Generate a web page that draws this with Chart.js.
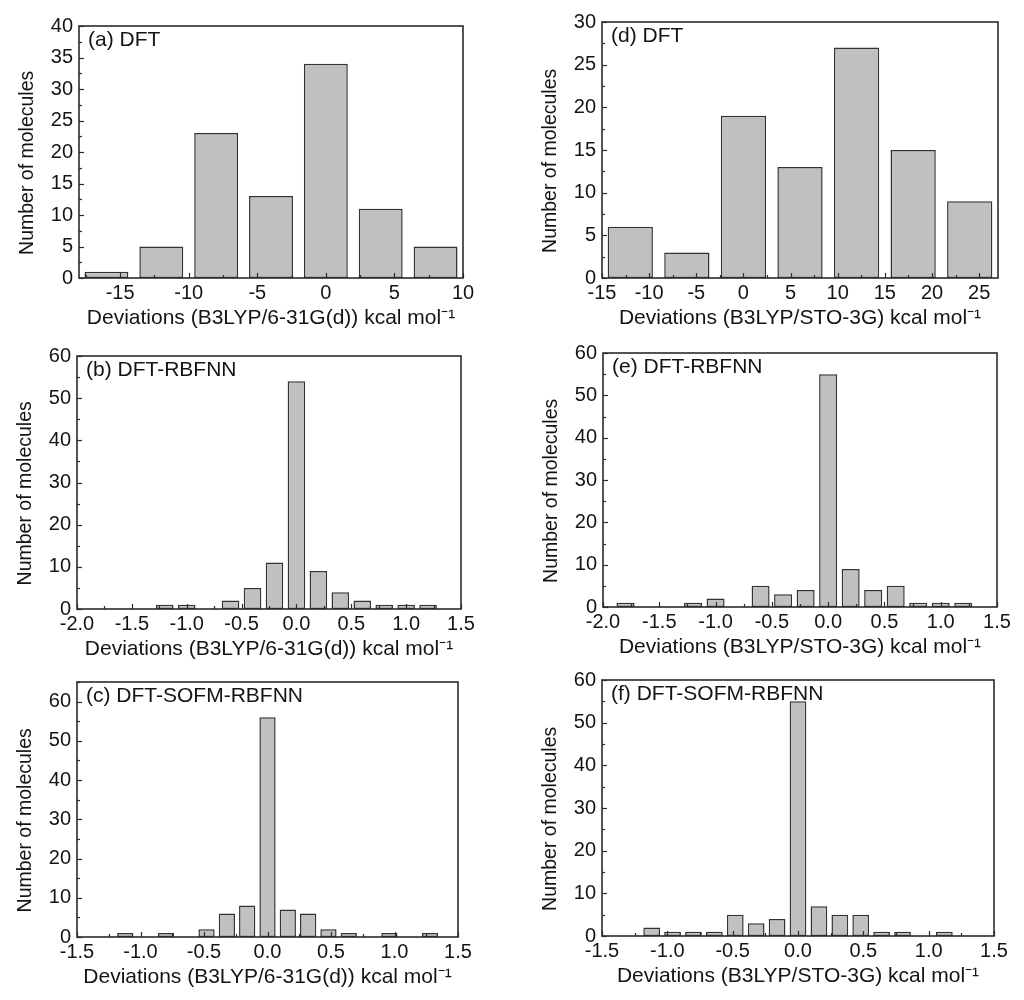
<!DOCTYPE html>
<html>
<head>
<meta charset="utf-8">
<script src="https://cdn.jsdelivr.net/npm/chart.js@4.4.1/dist/chart.umd.min.js"></script>
<style>
  body { margin: 0; background: #fff; }
  #wrap { position: relative; width: 1024px; height: 1000px; background: #fff; }
  #wrap canvas { position: absolute; }
</style>
</head>
<body>
<div id="wrap"></div>
<script>
// bin centres and counts
const binsA = [-16, -12, -8, -4, 0, 4, 8];
const countsA = [1, 5, 23, 13, 34, 11, 5];

const binsB = [-1.2, -1.0, -0.6, -0.4, -0.2, 0, 0.2, 0.4, 0.6, 0.8, 1.0, 1.2];
const countsB = [1, 1, 2, 5, 11, 54, 9, 4, 2, 1, 1, 1];

const binsC = [-1.12, -0.80, -0.48, -0.32, -0.16, 0, 0.16, 0.32, 0.48, 0.64, 0.96, 1.28];
const countsC = [1, 1, 2, 6, 8, 56, 7, 6, 2, 1, 1, 1];

const binsD = [-12, -6, 0, 6, 12, 18, 24];
const countsD = [6, 3, 19, 13, 27, 15, 9];

const binsE = [-1.8, -1.2, -1.0, -0.6, -0.4, -0.2, 0, 0.2, 0.4, 0.6, 0.8, 1.0, 1.2];
const countsE = [1, 1, 2, 5, 3, 4, 55, 9, 4, 5, 1, 1, 1];

const binsF = [-1.12, -0.96, -0.80, -0.64, -0.48, -0.32, -0.16, 0, 0.16, 0.32, 0.48, 0.64, 0.80, 1.12];
const countsF = [2, 1, 1, 1, 5, 3, 4, 55, 7, 5, 5, 1, 1, 1];

const labels = ['(a) DFT', '(b) DFT-RBFNN', '(c) DFT-SOFM-RBFNN', '(d) DFT', '(e) DFT-RBFNN', '(f) DFT-SOFM-RBFNN'];
const xTitleA = 'Deviations (B3LYP/6-31G(d)) kcal mol\u207B\u00B9';
const xTitleB = 'Deviations (B3LYP/STO-3G) kcal mol\u207B\u00B9';
// trailing spaces nudge the rotated title a little below the axis centre, as in the original
const yTitle = 'Number of molecules    ';

const FONT = '"Liberation Sans", Arial, sans-serif';
const INK = '#141414';

// plot box of every panel (left, right, top, bottom) and its axes
const panels = [
  { bins: binsA, counts: countsA, label: labels[0], xt: xTitleA, box: [79, 463, 26, 278],  x: [-18, 10, 5],   y: [40, 5],  dec: 0, barPct: 0.8 },
  { bins: binsB, counts: countsB, label: labels[1], xt: xTitleA, box: [77, 461, 356, 609], x: [-2, 1.5, 0.5], y: [60, 10], dec: 1, barPct: 0.8 },
  { bins: binsC, counts: countsC, label: labels[2], xt: xTitleA, box: [77, 458, 682, 937], x: [-1.5, 1.5, 0.5], y: [65, 10], dec: 1, barPct: 0.8 },
  // tick step (5) is smaller than bin step (6) here, so the ruler is the tick step
  { bins: binsD, counts: countsD, label: labels[3], xt: xTitleB, box: [602, 998, 22, 278], x: [-15, 27, 5],  y: [30, 5],  dec: 0, barPct: 0.96 },
  { bins: binsE, counts: countsE, label: labels[4], xt: xTitleB, box: [603, 997, 353, 607], x: [-2, 1.5, 0.5], y: [60, 10], dec: 1, barPct: 0.8 },
  { bins: binsF, counts: countsF, label: labels[5], xt: xTitleB, box: [602, 994, 680, 936], x: [-1.5, 1.5, 0.5], y: [60, 10], dec: 1, barPct: 0.8 }
];

const AXW = 79, AXH = 55, PADT = 20, PADR = 24;

// frame box, inward major/minor ticks and the panel label
const framePlugin = {
  id: 'frame',
  afterDatasetsDraw(chart, args, opts) {
    const { ctx, chartArea: a, scales } = chart;
    ctx.save();
    ctx.strokeStyle = '#2b2b2b';
    ctx.lineWidth = 1.6;
    ctx.strokeRect(a.left, a.top, a.right - a.left, a.bottom - a.top);

    ctx.lineWidth = 1.2;
    const marks = (scale) => {
      const vals = scale.ticks.map(t => t.value);
      const step = vals[1] - vals[0];
      const out = [];
      vals.forEach(v => out.push([v, 5]));
      for (let v = vals[0] - step / 2; v <= scale.max + 1e-9; v += step) {
        if (v >= scale.min - 1e-9) out.push([v, 3]);
      }
      return out;
    };
    marks(scales.x).forEach(([v, len]) => {
      const px = Math.round(scales.x.getPixelForValue(v)) + 0.5;
      ctx.beginPath(); ctx.moveTo(px, a.bottom); ctx.lineTo(px, a.bottom - len); ctx.stroke();
    });
    marks(scales.y).forEach(([v, len]) => {
      const py = Math.round(scales.y.getPixelForValue(v)) + 0.5;
      ctx.beginPath(); ctx.moveTo(a.left, py); ctx.lineTo(a.left + len, py); ctx.stroke();
    });

    ctx.fillStyle = INK;
    ctx.font = '21px ' + FONT;
    ctx.textBaseline = 'middle';
    ctx.textAlign = 'left';
    ctx.fillText(opts.text, a.left + 9, a.top + 14);
    ctx.restore();
  }
};

const wrap = document.getElementById('wrap');

panels.forEach(p => {
  const [L, R, T, B] = p.box;
  const cv = document.createElement('canvas');
  cv.width = (R - L) + AXW + PADR;
  cv.height = (B - T) + PADT + AXH;
  cv.style.left = (L - AXW) + 'px';
  cv.style.top = (T - PADT) + 'px';
  wrap.appendChild(cv);

  new Chart(cv.getContext('2d'), {
    type: 'bar',
    data: {
      datasets: [{
        data: p.bins.map((b, i) => ({ x: b, y: p.counts[i] })),
        backgroundColor: '#c0c0c0',
        borderColor: '#333',
        borderWidth: 1.5,
        borderSkipped: false,
        barPercentage: p.barPct,
        categoryPercentage: 1.0
      }]
    },
    options: {
      responsive: false,
      animation: false,
      layout: { padding: { left: 0, top: PADT, right: PADR, bottom: 0 } },
      plugins: {
        legend: { display: false },
        tooltip: { enabled: false },
        frame: { text: p.label }
      },
      scales: {
        x: {
          type: 'linear',
          offset: false,
          min: p.x[0], max: p.x[1],
          afterFit: s => { s.height = AXH; },
          grid: { display: false, drawTicks: false },
          border: { display: false },
          ticks: {
            stepSize: p.x[2],
            includeBounds: false,
            autoSkip: false,
            maxRotation: 0,
            padding: 3,
            color: INK,
            font: { family: FONT, size: 20 },
            callback: v => v.toFixed(p.dec)
          },
          title: {
            display: true,
            text: p.xt,
            color: INK,
            font: { family: FONT, size: 21 },
            padding: { top: 0, bottom: 2 }
          }
        },
        y: {
          min: 0, max: p.y[0],
          afterFit: s => { s.width = AXW; },
          grid: { display: false, drawTicks: false },
          border: { display: false },
          ticks: {
            stepSize: p.y[1],
            includeBounds: false,
            padding: 6,
            color: INK,
            font: { family: FONT, size: 20 }
          },
          title: {
            display: true,
            text: yTitle,
            color: INK,
            font: { family: FONT, size: 19.5 },
            padding: { top: 16, bottom: 0 }
          }
        }
      }
    },
    plugins: [framePlugin]
  });
});
</script>
</body>
</html>
